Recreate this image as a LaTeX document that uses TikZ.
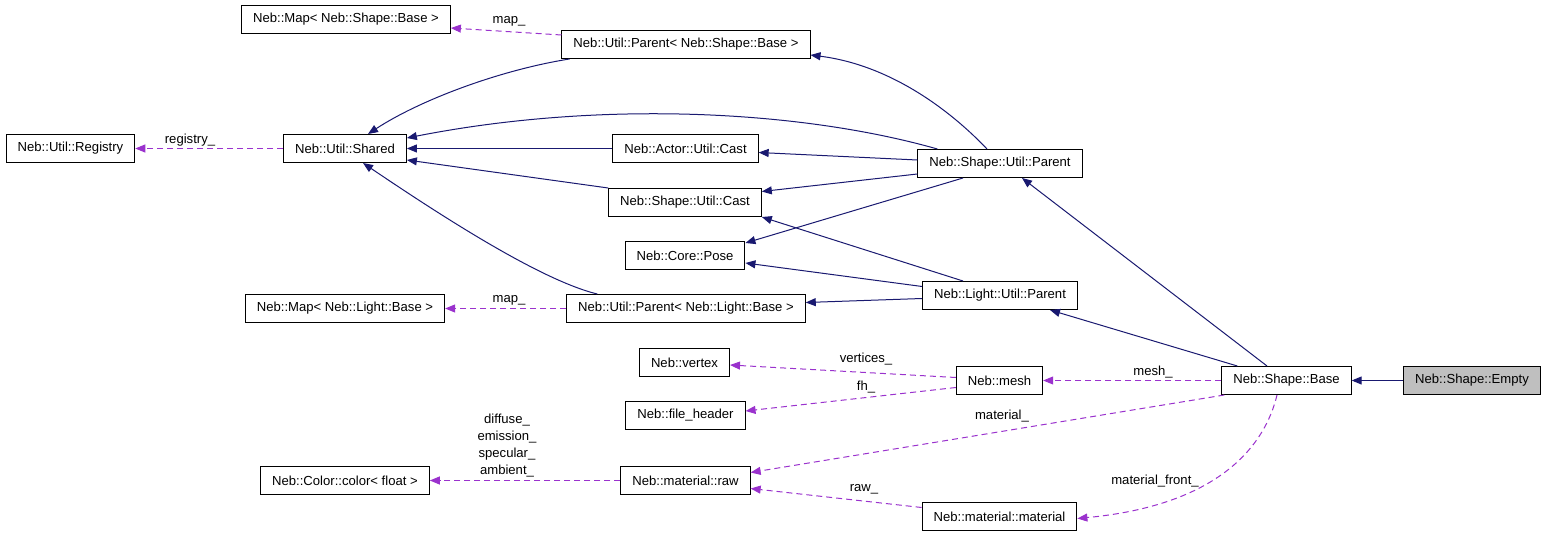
\documentclass[tikz,border=0pt]{standalone}
\usepackage{fontspec}
\setmainfont{Liberation Sans}
\usetikzlibrary{arrows.meta}
\definecolor{edgeblue}{HTML}{191970}
\definecolor{edgepurple}{HTML}{9A32CD}

\begin{document}
\begin{tikzpicture}[x=1pt, y=-1pt,
  box/.style={draw, line width=1pt, minimum height=28pt, inner xsep=11.5pt, inner ysep=0pt, font=\fontsize{13.1}{17}\selectfont},
  inh/.style={edgeblue, line width=1pt, -{Triangle[length=10pt, width=8pt]}},
  usage/.style={edgepurple, line width=1pt, dash pattern=on 6pt off 4pt, -{Triangle[length=10pt, width=8pt]}},
  lbl/.style={inner sep=0pt, font=\fontsize{13.1}{17}\selectfont, align=center}]
  \useasboundingbox (0,0) rectangle (1547,537);
  % boxes
  \node[box] (mshape) at (346,19.5) {Neb::Map< Neb::Shape::Base >};
  \node[box] (pshape) at (686,44.5) {Neb::Util::Parent< Neb::Shape::Base >};
  \node[box] (registry) at (70.5,148.5) {Neb::Util::Registry};
  \node[box] (shared) at (345,148.5) {Neb::Util::Shared};
  \node[box] (acast) at (685.5,148.5) {Neb::Actor::Util::Cast};
  \node[box] (supar) at (1000,163.5) {Neb::Shape::Util::Parent};
  \node[box] (scast) at (685,202.5) {Neb::Shape::Util::Cast};
  \node[box] (pose) at (685,255.5) {Neb::Core::Pose};
  \node[box] (mlight) at (345,308.5) {Neb::Map< Neb::Light::Base >};
  \node[box] (plight) at (686,308.5) {Neb::Util::Parent< Neb::Light::Base >};
  \node[box] (lupar) at (1000,295.5) {Neb::Light::Util::Parent};
  \node[box] (vertex) at (684.5,362.5) {Neb::vertex};
  \node[box] (mesh) at (999.5,380.5) {Neb::mesh};
  \node[box] (fheader) at (685.5,415.5) {Neb::file\_header};
  \node[box] (sbase) at (1286.5,380.5) {Neb::Shape::Base};
  \node[box, fill={rgb,255:red,191;green,191;blue,191}] (sempty) at (1472,380.5) {Neb::Shape::Empty};
  \node[box] (color) at (345,480.5) {Neb::Color::color< float >};
  \node[box] (raw) at (685.5,480.5) {Neb::material::raw};
  \node[box] (mmat) at (999.5,516.5) {Neb::material::material};

  % inheritance
  \draw[inh] ([xshift=8pt]pshape.south west) .. controls (500,70) and (420,100) .. ([xshift=23pt]shared.north);
  \draw[inh] ([xshift=20pt]supar.north west) .. controls (800,110) and (600,100) .. ([yshift=10.5pt]shared.east);
  \draw[inh] (acast.west) -- (shared.east);
  \draw[inh] (scast.north west) -- ([yshift=-11.5pt]shared.east);
  \draw[inh] ([xshift=31pt]plight.north west) .. controls (540,280) and (440,215) .. ([xshift=18pt]shared.south);
  \draw[inh] ([xshift=-13pt]supar.north) .. controls (950,110) and (890,65) .. ([yshift=-10.5pt]pshape.east);
  \draw[inh] ([yshift=3.5pt]supar.west) -- ([yshift=-4pt]acast.east);
  \draw[inh] ([yshift=-10.5pt]supar.west) -- ([yshift=11pt]scast.east);
  \draw[inh] ([xshift=-37pt]supar.south) -- ([yshift=12.5pt]pose.east);
  \draw[inh] ([xshift=-37pt]lupar.north) -- (scast.south east);
  \draw[inh] ([yshift=9pt]lupar.west) -- ([yshift=-7.5pt]pose.east);
  \draw[inh] ([yshift=-3pt]lupar.west) -- ([yshift=6pt]plight.east);
  \draw[inh] ([xshift=16pt]sbase.north west) -- ([xshift=50pt]lupar.south);
  \draw[inh] ([xshift=-19.5pt]sbase.north) -- ([xshift=22pt]supar.south);
  \draw[inh] (sempty.west) -- (sbase.east);

  % members
  \draw[usage] ([yshift=9.5pt]pshape.west) -- ([yshift=-8.5pt]mshape.east);
  \draw[usage] (shared.west) -- (registry.east);
  \draw[usage] (plight.west) -- (mlight.east);
  \draw[usage] ([yshift=3pt]mesh.west) -- ([yshift=-2.5pt]vertex.east);
  \draw[usage] ([yshift=-7pt]mesh.west) -- ([yshift=4.5pt]fheader.east);
  \draw[usage] (sbase.west) -- (mesh.east);
  \draw[usage] ([xshift=3pt]sbase.south west) -- ([yshift=8pt]raw.east);
  \draw[usage] ([xshift=-9.5pt]sbase.south) .. controls (1265,445) and (1220,505) .. ([yshift=-2pt]mmat.east);
  \draw[usage] (raw.west) -- (color.east);
  \draw[usage] ([yshift=9pt]mmat.west) -- ([yshift=-8pt]raw.east);

  % labels
  \node[lbl] (lmapshape) at (509,21) {map\_};
  \node[lbl] (lregistry) at (190,140) {registry\_};
  \node[lbl] (lmaplight) at (509,300) {map\_};
  \node[lbl] (lvertices) at (866,359) {vertices\_};
  \node[lbl] (lfh) at (866,387) {fh\_};
  \node[lbl] (lmesh) at (1153,372) {mesh\_};
  \node[lbl] (lmaterial) at (1002,416) {material\_};
  \node[lbl] (lfront) at (1155,481) {material\_front\_};
  \node[lbl] (lraw) at (864,489) {raw\_};
  \node[lbl] (lcolor) at (507,446) {diffuse\_\\emission\_\\specular\_\\ambient\_};
\end{tikzpicture}
\end{document}
